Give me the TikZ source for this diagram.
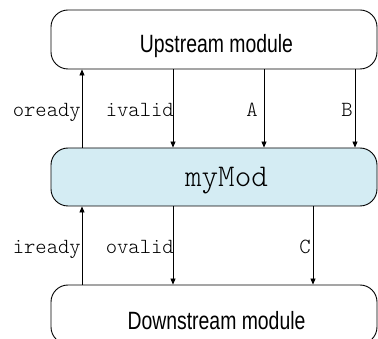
\documentclass[tikz,border=0pt]{standalone}
\usepackage{fontspec}
\setmainfont{Liberation Sans}
\newfontfamily\sigfont{Latin Modern Mono Light}
\usetikzlibrary{arrows.meta}
\definecolor{modfill}{HTML}{D4ECF3}
\begin{document}
\begin{tikzpicture}[x=1pt,y=-1pt,
  box/.style={draw=black,line width=0.9pt,rounded corners=17pt,minimum width=326pt,minimum height=59pt,inner sep=0pt},
  sig/.style={font=\sigfont\fontsize{21.6}{21.6}\selectfont,anchor=base east,inner sep=0pt},
  title/.style={font=\fontsize{25}{25}\selectfont,anchor=base,inner sep=0pt},
  wire/.style={line width=0.8pt,-{Triangle[length=6pt,width=5pt]}}]
\useasboundingbox (0,0) rectangle (378,339);
\clip (0,0) rectangle (378,339);
\node[box] (up) at (214,39.5) {};
\node[box,fill=modfill,minimum height=58pt] (mod) at (214,177) {};
\node[box] (down) at (214,314.5) {};
\node[title] (upT) at (216.5,53) {\scalebox{0.776}[1]{Upstream module}};
\node[title] (downT) at (216.5,330) {\scalebox{0.776}[1]{Downstream module}};
\node[font=\sigfont\fontsize{31.6}{31.6}\selectfont,anchor=base,inner sep=0pt] (modT) at (226.5,186.5) {myMod};
\coordinate (xa) at (82,0);
\coordinate (xb) at (173,0);
\coordinate (xc) at (264,0);
\coordinate (xd) at (355,0);
\coordinate (xe) at (313,0);
\draw[wire] (mod.north -| xa) -- (up.south -| xa);
\draw[wire] (up.south -| xb) -- (mod.north -| xb);
\draw[wire] (up.south -| xc) -- (mod.north -| xc);
\draw[wire] (up.south -| xd) -- (mod.north -| xd);
\draw[wire] (down.north -| xa) -- (mod.south -| xa);
\draw[wire] (mod.south -| xb) -- (down.north -| xb);
\draw[wire] (mod.south -| xe) -- (down.north -| xe);
\node[sig] (l1) at (81,117) {oready};
\node[sig] (l2) at (174,117) {ivalid};
\node[sig] (l3) at (258,117) {A};
\node[sig] (l4) at (353,117) {B};
\node[sig] (l5) at (81,254) {iready};
\node[sig] (l6) at (174,254) {ovalid};
\node[sig] (l7) at (311,254) {C};
\end{tikzpicture}
\end{document}
